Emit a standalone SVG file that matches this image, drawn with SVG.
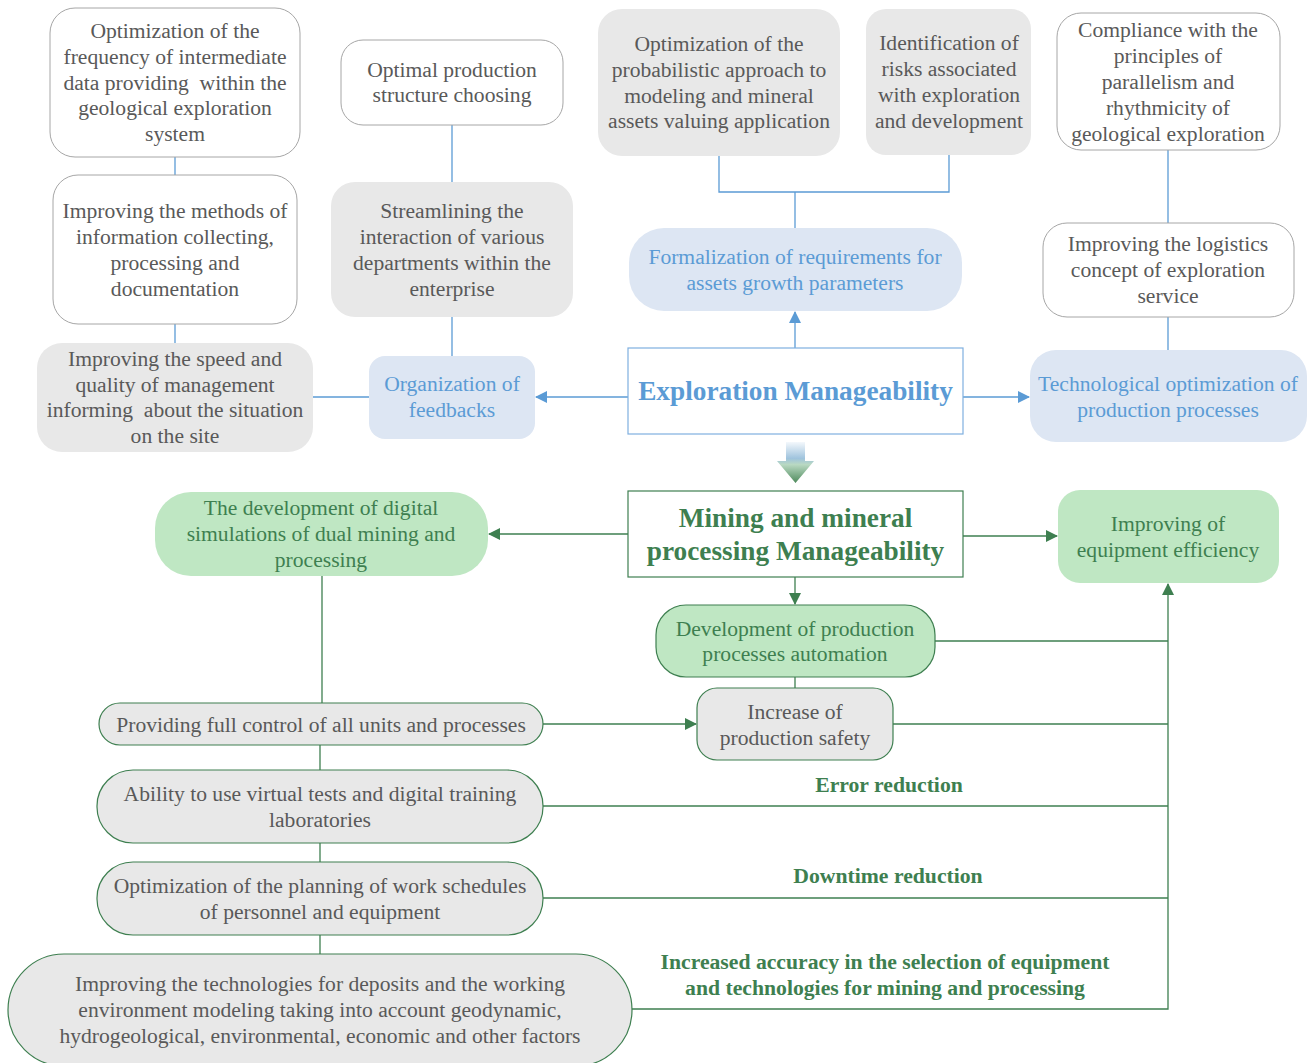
<svg xmlns="http://www.w3.org/2000/svg" width="1314" height="1063" viewBox="0 0 1314 1063">
<style>
text{font-family:"Liberation Serif","Times New Roman",serif;font-size:21.6px;text-anchor:middle}
.w{fill:#ffffff;stroke:#a6a6a6;stroke-width:1}
.g{fill:#e8e8e8;stroke:none}
.lb{fill:#dde6f3;stroke:none}
.gn{fill:#bfe7c3;stroke:none}
.gns{fill:#bfe7c3;stroke:#3e7f50;stroke-width:1.2}
.gg{fill:#e8e8e8;stroke:#3e7f50;stroke-width:1.2}
.tg{fill:#595959}
.tb{fill:#5b9bd5}
.tgn{fill:#3e7f50}
.bl{fill:none;stroke:#5b9bd5;stroke-width:1.3}
.gl{fill:none;stroke:#3e7f50;stroke-width:1.3}
.lbl{fill:#3e7f50;font-weight:bold;font-size:21.7px}
.pre{white-space:pre}
</style>
<defs>
<marker id="ab" markerWidth="12" markerHeight="12" refX="11" refY="6" orient="auto" markerUnits="userSpaceOnUse"><path d="M0,0 L12,6 L0,12 z" fill="#5b9bd5"/></marker>
<marker id="ag" markerWidth="12" markerHeight="12" refX="11" refY="6" orient="auto" markerUnits="userSpaceOnUse"><path d="M0,0 L12,6 L0,12 z" fill="#3e7f50"/></marker>
<linearGradient id="grad" x1="0" y1="0" x2="0" y2="1">
<stop offset="0" stop-color="#f4f8fc"/>
<stop offset="0.4" stop-color="#9fc3dd"/>
<stop offset="0.55" stop-color="#b9d9c2"/>
<stop offset="1" stop-color="#4e8a5c"/>
</linearGradient>
</defs>

<g id="connectors">
<path class="bl" d="M175 157 V175"/>
<path class="bl" d="M175 324 V343"/>
<path class="bl" d="M313 397 H370"/>
<path class="bl" d="M452 125 V182"/>
<path class="bl" d="M452 317 V356"/>
<path class="bl" d="M628 397 H536" marker-end="url(#ab)"/>
<path class="bl" d="M719 156 V192 H949 V155"/>
<path class="bl" d="M795 192 V228"/>
<path class="bl" d="M795 348 V312" marker-end="url(#ab)"/>
<path class="bl" d="M963 397 H1029" marker-end="url(#ab)"/>
<path class="bl" d="M1168 150 V223"/>
<path class="bl" d="M1168 317 V350"/>

<path class="gl" d="M628 534 H489" marker-end="url(#ag)"/>
<path class="gl" d="M963 536 H1057" marker-end="url(#ag)"/>
<path class="gl" d="M795 577 V604" marker-end="url(#ag)"/>
<path class="gl" d="M795 677 V688"/>
<path class="gl" d="M322 576 V703"/>
<path class="gl" d="M543 724 H696" marker-end="url(#ag)"/>
<path class="gl" d="M320 745 V770"/>
<path class="gl" d="M320 843 V862"/>
<path class="gl" d="M320 935 V954"/>
<path class="gl" d="M935 641 H1168"/>
<path class="gl" d="M893 724 H1168"/>
<path class="gl" d="M543 806 H1168"/>
<path class="gl" d="M543 898 H1168"/>
<path class="gl" d="M632 1009 H1168 V584" marker-end="url(#ag)"/>
<polygon points="786,442 805,442 805,461 814,461 795.5,483 777,461 786,461" fill="url(#grad)"/>
</g>

<g id="n1"><rect class="w" x="50" y="8" width="250" height="149" rx="25"/>
<text class="tg"><tspan x="175" y="38">Optimization of the</tspan><tspan x="175" y="64">frequency of intermediate</tspan><tspan class="pre" x="175" y="90">data providing  within the</tspan><tspan x="175" y="115">geological exploration</tspan><tspan x="175" y="141">system</tspan></text></g>

<g id="n2"><rect class="w" x="53" y="175" width="244" height="149" rx="25"/>
<text class="tg"><tspan x="175" y="218">Improving the methods of</tspan><tspan x="175" y="244">information collecting,</tspan><tspan x="175" y="270">processing and</tspan><tspan x="175" y="296">documentation</tspan></text></g>

<g id="n3"><rect class="g" x="37" y="343" width="276" height="109" rx="25"/>
<text class="tg"><tspan x="175" y="366">Improving the speed and</tspan><tspan x="175" y="392">quality of management</tspan><tspan class="pre" x="175" y="417">informing  about the situation</tspan><tspan x="175" y="443">on the site</tspan></text></g>

<g id="n4"><rect class="w" x="341" y="40" width="222" height="85" rx="22"/>
<text class="tg"><tspan x="452" y="77">Optimal production</tspan><tspan x="452" y="102">structure choosing</tspan></text></g>

<g id="n5"><rect class="g" x="331" y="182" width="242" height="135" rx="24"/>
<text class="tg"><tspan x="452" y="218">Streamlining the</tspan><tspan x="452" y="244">interaction of various</tspan><tspan x="452" y="270">departments within the</tspan><tspan x="452" y="296">enterprise</tspan></text></g>

<g id="n6"><rect class="lb" x="369" y="356" width="166" height="83" rx="16"/>
<text class="tb"><tspan x="452" y="391">Organization of</tspan><tspan x="452" y="417">feedbacks</tspan></text></g>

<g id="n7"><rect class="g" x="598" y="9" width="242" height="147" rx="24"/>
<text class="tg"><tspan x="719" y="51">Optimization of the</tspan><tspan x="719" y="77">probabilistic approach to</tspan><tspan x="719" y="103">modeling and mineral</tspan><tspan x="719" y="128">assets valuing application</tspan></text></g>

<g id="n8"><rect class="g" x="866" y="9" width="165" height="146" rx="20"/>
<text class="tg"><tspan x="949" y="50">Identification of</tspan><tspan x="949" y="76">risks associated</tspan><tspan x="949" y="102">with exploration</tspan><tspan x="949" y="128">and development</tspan></text></g>

<g id="n9"><rect class="lb" x="629" y="228" width="333" height="83" rx="35"/>
<text class="tb"><tspan x="795" y="264">Formalization of requirements for</tspan><tspan x="795" y="290">assets growth parameters</tspan></text></g>

<g id="n10"><rect x="628" y="348" width="335" height="86" fill="#ffffff" stroke="#7fb0e0" stroke-width="1.2"/>
<text class="tb" x="795.5" y="400" style="font-size:27.3px;font-weight:bold">Exploration Manageability</text></g>

<g id="n11"><rect class="w" x="1057" y="13" width="223" height="137" rx="24"/>
<text class="tg"><tspan x="1168" y="37">Compliance with the</tspan><tspan x="1168" y="63">principles of</tspan><tspan x="1168" y="89">parallelism and</tspan><tspan x="1168" y="115">rhythmicity of</tspan><tspan x="1168" y="141">geological exploration</tspan></text></g>

<g id="n12"><rect class="w" x="1043" y="223" width="251" height="94" rx="24"/>
<text class="tg"><tspan x="1168" y="251">Improving the logistics</tspan><tspan x="1168" y="277">concept of exploration</tspan><tspan x="1168" y="303">service</tspan></text></g>

<g id="n13"><rect class="lb" x="1030" y="350" width="277" height="92" rx="26"/>
<text class="tb"><tspan x="1168" y="391">Technological optimization of</tspan><tspan x="1168" y="417">production processes</tspan></text></g>

<g id="n14"><rect x="628" y="491" width="335" height="86" fill="#ffffff" stroke="#3e7f50" stroke-width="1.2"/>
<text class="tgn" style="font-size:27.3px;font-weight:bold"><tspan x="795.5" y="527">Mining and mineral</tspan><tspan x="795.5" y="560">processing Manageability</tspan></text></g>

<g id="n15"><rect class="gn" x="155" y="492" width="333" height="84" rx="36"/>
<text class="tgn"><tspan x="321" y="515">The development of digital</tspan><tspan x="321" y="541">simulations of dual mining and</tspan><tspan x="321" y="567">processing</tspan></text></g>

<g id="n16"><rect class="gn" x="1058" y="490" width="221" height="93" rx="22"/>
<text class="tgn"><tspan x="1168" y="531">Improving of</tspan><tspan x="1168" y="557">equipment efficiency</tspan></text></g>

<g id="n17"><rect class="gns" x="656" y="605" width="279" height="72" rx="30"/>
<text class="tgn"><tspan x="795" y="636">Development of production</tspan><tspan x="795" y="661">processes automation</tspan></text></g>

<g id="n18"><rect class="gg" x="697" y="688" width="196" height="72" rx="20"/>
<text class="tg"><tspan x="795" y="719">Increase of</tspan><tspan x="795" y="745">production safety</tspan></text></g>

<g id="n19"><rect class="gg" x="99" y="703" width="444" height="42" rx="21"/>
<text class="tg" x="321" y="732">Providing full control of all units and processes</text></g>

<g id="n20"><rect class="gg" x="97" y="770" width="446" height="73" rx="36"/>
<text class="tg"><tspan x="320" y="801">Ability to use virtual tests and digital training</tspan><tspan x="320" y="827">laboratories</tspan></text></g>

<g id="n21"><rect class="gg" x="97" y="862" width="446" height="73" rx="36"/>
<text class="tg"><tspan x="320" y="893">Optimization of the planning of work schedules</tspan><tspan x="320" y="919">of personnel and equipment</tspan></text></g>

<g id="n22"><rect class="gg" x="8" y="954" width="624" height="112" rx="56"/>
<text class="tg"><tspan x="320" y="991">Improving the technologies for deposits and the working</tspan><tspan x="320" y="1017">environment modeling taking into account geodynamic,</tspan><tspan x="320" y="1043">hydrogeological, environmental, economic and other factors</tspan></text></g>

<g id="labels">
<text class="lbl" x="889" y="792">Error reduction</text>
<text class="lbl" x="888" y="883">Downtime reduction</text>
<text class="lbl"><tspan x="885" y="969">Increased accuracy in the selection of equipment</tspan><tspan x="885" y="995">and technologies for mining and processing</tspan></text>
</g>
</svg>
